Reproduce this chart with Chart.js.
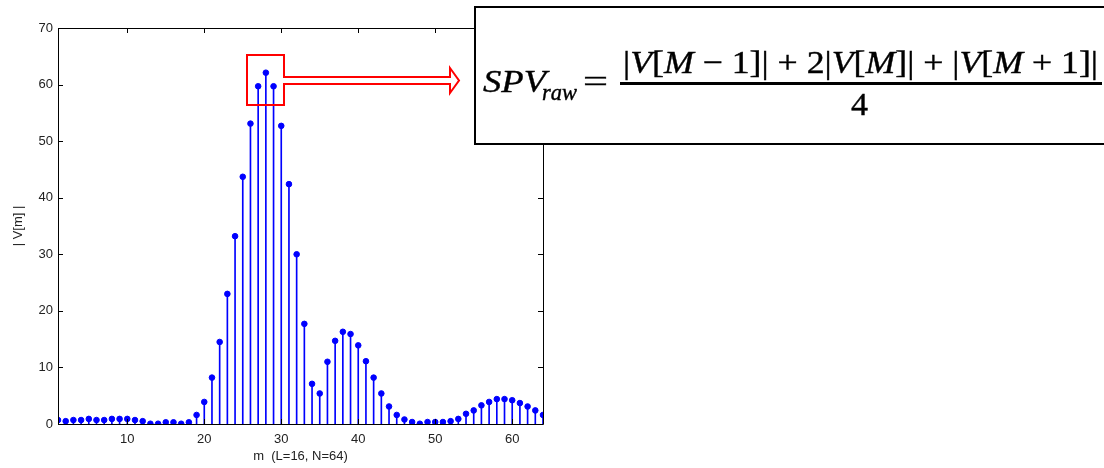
<!DOCTYPE html>
<html lang="en">
  <head>
    <meta charset="UTF-8" />
    <title>|V[m]| stem plot</title>
    <script src="https://cdn.jsdelivr.net/npm/chart.js"></script>
    <style>
      html, body { margin: 0; padding: 0; background: #fff; }
      #wrap { position: relative; width: 1104px; height: 468px; }
    </style>
  </head>
  <body>
    <div id="wrap"><canvas id="myChart"></canvas></div>

    <script>
      // m index 1..64 and |V[m]|
      const mValues = Array.from({ length: 64 }, (_, i) => i + 1);
      const vMag = [
        0.7, 0.5, 0.7, 0.7, 0.9, 0.7, 0.7, 0.9, 0.9, 0.9,
        0.7, 0.5, 0.05, 0.05, 0.3, 0.3, 0.05, 0.3, 1.6, 3.9,
        8.2, 14.5, 23.0, 33.2, 43.7, 53.1, 59.7, 62.1, 59.7, 52.7,
        42.4, 30.0, 17.7, 7.1, 5.4, 11.0, 14.7, 16.3, 15.9, 13.9,
        11.1, 8.2, 5.4, 3.1, 1.6, 0.8, 0.35, 0.05, 0.35, 0.35,
        0.35, 0.5, 0.9, 1.8, 2.4, 3.3, 3.9, 4.4, 4.4, 4.2,
        3.7, 3.1, 2.4, 1.6
      ];
      const xTicks = [10, 20, 30, 40, 50, 60];
      const yTicks = [0, 10, 20, 30, 40, 50, 60, 70];

      const points = mValues.map((m, i) => ({ x: m, y: vMag[i] }));

      const it = (s) => "italic " + s + "px 'Liberation Serif', serif";
      const up = (s) => s + "px 'Liberation Serif', serif";

      // draw text pieces [text, italic] squeezed/stretched between x0 and x1
      function drawFit(ctx, segs, size, x0, x1, base) {
        let total = 0;
        segs.forEach(([s, i]) => { ctx.font = i ? it(size) : up(size); total += ctx.measureText(s).width; });
        ctx.save();
        ctx.translate(x0, base);
        ctx.scale((x1 - x0) / total, 1);
        let cx = 0;
        segs.forEach(([s, i]) => {
          ctx.font = i ? it(size) : up(size);
          ctx.fillText(s, cx, 0);
          ctx.strokeText(s, cx, 0);
          cx += ctx.measureText(s).width;
        });
        ctx.restore();
      }

      // box around the plot with ticks pointing inwards (matlab look)
      const frame = {
        id: "frame",
        afterDraw(chart) {
          const ctx = chart.ctx;
          const a = chart.chartArea;
          const sx = chart.scales.x, sy = chart.scales.y;
          ctx.save();
          ctx.strokeStyle = "#000";
          ctx.lineWidth = 1;
          ctx.beginPath();
          ctx.rect(Math.round(a.left) + 0.5, Math.round(a.top) + 0.5,
            Math.round(a.right - a.left), Math.round(a.bottom - a.top));
          xTicks.forEach((t) => {
            const px = Math.round(sx.getPixelForValue(t)) + 0.5;
            ctx.moveTo(px, a.bottom); ctx.lineTo(px, a.bottom - 5);
            ctx.moveTo(px, a.top); ctx.lineTo(px, a.top + 5);
          });
          yTicks.forEach((t) => {
            const py = Math.round(sy.getPixelForValue(t)) + 0.5;
            ctx.moveTo(a.left, py); ctx.lineTo(a.left + 5, py);
            ctx.moveTo(a.right, py); ctx.lineTo(a.right - 5, py);
          });
          ctx.stroke();

          // red marker round the peak and hollow arrow
          ctx.strokeStyle = "#ff0000";
          ctx.lineWidth = 2;
          ctx.beginPath();
          ctx.moveTo(247, 55); ctx.lineTo(284, 55); ctx.lineTo(284, 77);
          ctx.lineTo(450, 77); ctx.lineTo(450, 68); ctx.lineTo(459, 80.5);
          ctx.lineTo(450, 93); ctx.lineTo(450, 84); ctx.lineTo(284, 84);
          ctx.lineTo(284, 105); ctx.lineTo(247, 105); ctx.closePath();
          ctx.stroke();

          // formula box
          ctx.fillStyle = "#fff";
          ctx.fillRect(475, 7, 640, 137);
          ctx.strokeStyle = "#000";
          ctx.lineWidth = 2;
          ctx.strokeRect(475, 7, 640, 137);

          ctx.fillStyle = "#000";
          ctx.lineWidth = 0.4;
          ctx.textBaseline = "alphabetic";
          drawFit(ctx, [["SPV", 1]], 32, 483, 546, 92);
          drawFit(ctx, [["raw", 1]], 23, 542, 577, 100);
          drawFit(ctx, [["=", 0]], 32, 583, 608, 92);
          drawFit(ctx, [
            ["|", 0], ["V", 1], ["[", 0], ["M", 1], [" \u2212 1]| + 2|", 0],
            ["V", 1], ["[", 0], ["M", 1], ["]| + |", 0], ["V", 1], ["[", 0],
            ["M", 1], [" + 1]|", 0]
          ], 32, 623, 1098, 73);
          ctx.fillRect(620, 82, 1102 - 620, 3);
          drawFit(ctx, [["4", 0]], 32, 851, 868, 115);
          ctx.restore();
        },
      };

      const ctx = document.getElementById("myChart").getContext("2d");
      const chart = new Chart(ctx, {
        type: "bar",
        data: {
          datasets: [
            {
              type: "scatter",
              data: points,
              backgroundColor: "#0000ff",
              borderColor: "#0000ff",
              pointRadius: 2.8,
              pointHoverRadius: 2.8,
              order: 0,
            },
            {
              type: "bar",
              data: points,
              backgroundColor: "#0000ff",
              barThickness: 1,
              order: 1,
            },
          ],
        },
        options: {
          responsive: true,
          maintainAspectRatio: false,
          animation: false,
          events: [],
          layout: { padding: { top: 28, right: 561, left: 0, bottom: 0 } },
          plugins: { legend: { display: false }, tooltip: { enabled: false } },
          scales: {
            x: {
              type: "linear",
              min: 1,
              max: 64,
              offset: false,
              grid: { display: false, drawTicks: false },
              border: { display: false },
              afterBuildTicks: (s) => { s.ticks = xTicks.map((v) => ({ value: v })); },
              afterFit: (s) => { s.height = 44; },
              ticks: { color: "#222", padding: 8, font: { family: "'Liberation Sans', Arial", size: 13 } },
              title: {
                display: true,
                text: "m  (L=16, N=64)",
                color: "#222",
                padding: { top: 0, bottom: 4 },
                font: { family: "'Liberation Sans', Arial", size: 13 },
              },
            },
            y: {
              min: 0,
              max: 70,
              grid: { display: false, drawTicks: false },
              border: { display: false },
              afterBuildTicks: (s) => { s.ticks = yTicks.map((v) => ({ value: v })); },
              afterFit: (s) => { s.width = 58; },
              ticks: { color: "#222", padding: 5, font: { family: "'Liberation Sans', Arial", size: 13 } },
              title: {
                display: true,
                text: "| V[m] |",
                color: "#222",
                padding: { top: 11, bottom: 0 },
                font: { family: "'Liberation Sans', Arial", size: 13 },
              },
            },
          },
        },
        plugins: [frame],
      });
    </script>
  </body>
</html>
